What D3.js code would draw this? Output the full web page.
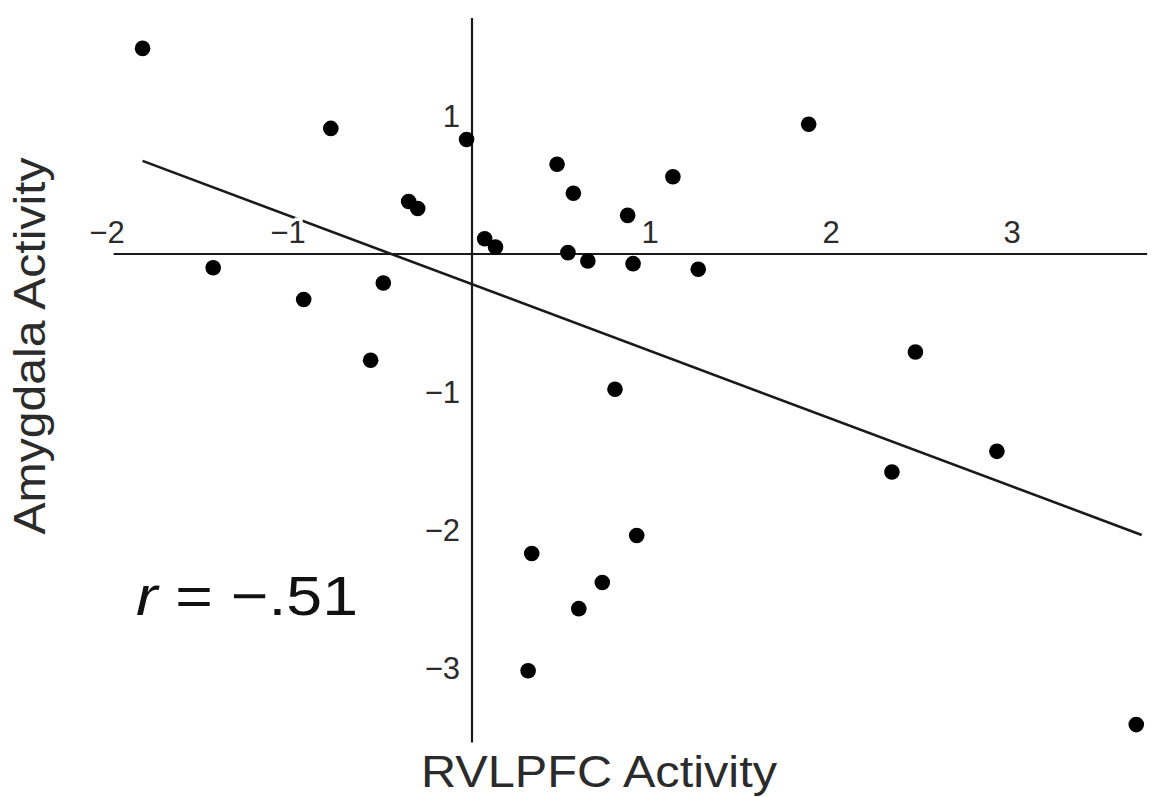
<!DOCTYPE html>
<html>
<head>
<meta charset="utf-8">
<script src="https://cdn.jsdelivr.net/npm/d3@7"></script>
<style>
  html, body { margin: 0; padding: 0; background: #fff; }
  svg { display: block; }
  text { font-family: "Liberation Sans", Arial, Helvetica, sans-serif; }
</style>
</head>
<body>
<svg id="chart" width="1155" height="797"></svg>
<script>
// ---- data ----
const rvlpfc   = [-1.82, -0.78, -0.03, -0.35, -0.30, 0.07, 0.13, -1.43, -0.93, -0.49, -0.56,
                   0.47, 0.56, 0.86, 1.11, 1.86, 0.53, 0.64, 0.89, 1.25, 0.79, 0.91, 0.33,
                   0.72, 0.59, 0.31, 2.45, 2.32, 2.90, 3.67];
const amygdala = [1.49, 0.91, 0.83, 0.38, 0.33, 0.11, 0.05, -0.10, -0.33, -0.21, -0.77,
                   0.65, 0.44, 0.28, 0.56, 0.94, 0.01, -0.05, -0.07, -0.11, -0.98, -2.04, -2.17,
                  -2.38, -2.57, -3.02, -0.71, -1.58, -1.43, -3.41];
const xTicks = [-2, -1, 1, 2, 3];
const yTicks = [1, -1, -2, -3];
const fitSlope = -0.491;
const fitIntercept = -0.219;
const fitRange = [-1.82, 3.70];
const xAxisExtent = [-1.98, 3.73];
const yAxisExtent = [-3.54, 1.71];
const xTitle = "RVLPFC Activity";
const yTitle = "Amygdala Activity";
const rValue = "−.51";

// ---- scales ----
const x = d3.scaleLinear().domain([-2, 3]).range([110, 1015]);
const y = d3.scaleLinear().domain([-3, 1]).range([668, 116]);

const svg = d3.select("#chart");
const ink = "#1a1a1a";
const textInk = "#2b2b2b";
const fmt = d3.format("d");

// axes (crossing at origin)
svg.append("line")
  .attr("x1", x(xAxisExtent[0])).attr("x2", x(xAxisExtent[1]))
  .attr("y1", y(0)).attr("y2", y(0))
  .attr("stroke", ink).attr("stroke-width", 2.2);
svg.append("line")
  .attr("x1", x(0)).attr("x2", x(0))
  .attr("y1", y(yAxisExtent[1])).attr("y2", y(yAxisExtent[0]))
  .attr("stroke", ink).attr("stroke-width", 2.2);

// regression line
const fit = fitRange.map(v => [v, fitIntercept + fitSlope * v]);
svg.append("path")
  .attr("d", d3.line().x(d => x(d[0])).y(d => y(d[1]))(fit))
  .attr("fill", "none").attr("stroke", ink).attr("stroke-width", 2.6);

// x tick labels (above the axis, white halo)
svg.append("g").selectAll("text").data(xTicks).join("text")
  .attr("x", d => x(d) - 3)
  .attr("y", y(0) - 11)
  .attr("text-anchor", "middle")
  .attr("font-size", 31)
  .attr("fill", textInk)
  .attr("stroke", "#fff").attr("stroke-width", 7).attr("paint-order", "stroke")
  .text(d => fmt(d));

// y tick labels (left of the axis)
svg.append("g").selectAll("text").data(yTicks).join("text")
  .attr("x", x(0) - 12)
  .attr("y", d => y(d))
  .attr("dy", "0.36em")
  .attr("text-anchor", "end")
  .attr("font-size", 31)
  .attr("fill", textInk)
  .text(d => fmt(d));

// points
svg.append("g").selectAll("circle").data(rvlpfc).join("circle")
  .attr("cx", d => x(d))
  .attr("cy", (d, i) => y(amygdala[i]))
  .attr("r", 7.8)
  .attr("fill", "#000");

// axis titles
svg.append("text")
  .attr("x", 599).attr("y", 787)
  .attr("text-anchor", "middle")
  .attr("font-size", 44)
  .attr("textLength", 356).attr("lengthAdjust", "spacingAndGlyphs")
  .attr("fill", textInk)
  .text(xTitle);

svg.append("text")
  .attr("transform", "translate(45,346) rotate(-90)")
  .attr("text-anchor", "middle")
  .attr("font-size", 45)
  .attr("textLength", 377).attr("lengthAdjust", "spacingAndGlyphs")
  .attr("fill", textInk)
  .text(yTitle);

// correlation annotation
const rt = svg.append("text")
  .attr("x", 136).attr("y", 615)
  .attr("font-size", 56)
  .attr("textLength", 222).attr("lengthAdjust", "spacingAndGlyphs")
  .attr("fill", "#111");
rt.append("tspan").attr("font-style", "italic").text("r");
rt.append("tspan").text(" = " + rValue);
</script>
</body>
</html>
